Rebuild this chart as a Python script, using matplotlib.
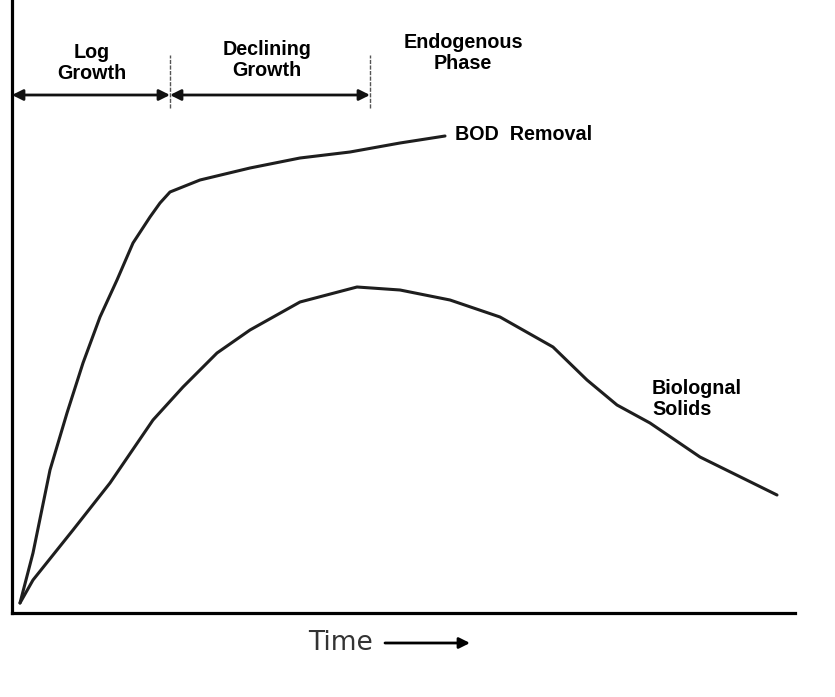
import matplotlib
matplotlib.use("Agg")
import matplotlib.pyplot as plt

# ---- data (arbitrary time / response units) ----
bod_t = [8, 21, 38, 55, 71, 88, 105, 121, 138, 148, 158, 173, 188, 238, 288, 338, 388, 433]
bod_y = [10, 60, 143, 200, 250, 296, 333, 370, 396, 410, 421, 427, 433, 445, 455, 461, 470, 477]

bio_t = [8, 21, 61, 98, 141, 171, 205, 238, 288, 345, 388, 438, 488, 541, 575, 605, 638, 688, 765]
bio_y = [10, 33, 83, 130, 193, 226, 260, 283, 311, 326, 323, 313, 296, 266, 233, 208, 190, 156, 118]

phase_bounds = [0, 158, 358]
phase_labels = ["Log\nGrowth", "Declining\nGrowth", "Endogenous\nPhase"]
phase_label_x = [80, 255, 451]
phase_label_y = [550, 553, 560]

curve_labels = ["BOD  Removal", "Biolognal\nSolids"]

W, H = 835, 697
fig = plt.figure(figsize=(W / 100, H / 100), dpi=100)
ax = fig.add_axes([12 / W, (H - 613) / H, (795 - 12) / W, 613 / H])
ax.set_xlim(0, 783)
ax.set_ylim(0, 613)
for s in ["top", "right"]:
    ax.spines[s].set_visible(False)
for s in ["left", "bottom"]:
    ax.spines[s].set_linewidth(2.3)
    ax.spines[s].set_color("black")
ax.set_xticks([])
ax.set_yticks([])

curve_color = "#1e1e1e"
ax.plot(bod_t, bod_y, color=curve_color, lw=2.2, solid_capstyle="round",
        solid_joinstyle="round")
ax.plot(bio_t, bio_y, color=curve_color, lw=2.2, solid_capstyle="round",
        solid_joinstyle="round")

font = "Liberation Sans"
fs = 14.2
ax.text(443, 478, curve_labels[0], fontsize=fs, fontweight="bold", family=font,
        ha="left", va="center")
ax.text(640, 214, curve_labels[1], fontsize=fs, fontweight="bold", family=font,
        ha="left", va="center", linespacing=1.15)

for x, y, lab in zip(phase_label_x, phase_label_y, phase_labels):
    ax.text(x, y, lab, fontsize=fs, fontweight="bold", family=font,
            ha="center", va="center", linespacing=1.15)

# phase boundary ticks
for xb in phase_bounds[1:]:
    ax.plot([xb, xb], [505, 558], color="#555555", lw=1.0, ls=(0, (3, 1)))

# double-headed arrows
arrow_y = 518
for a, b in zip(phase_bounds[:-1], phase_bounds[1:]):
    ax.annotate("", xy=(b, arrow_y), xytext=(a, arrow_y),
                arrowprops=dict(arrowstyle="<|-|>", color="#111111", lw=2.0,
                                mutation_scale=16, shrinkA=0, shrinkB=0))

# Time label with arrow
ax.text(328, -30, "Time", fontsize=19, color="#333333", family="DejaVu Sans",
        ha="center", va="center", clip_on=False)
ax.annotate("", xy=(458, -30), xytext=(373, -30), annotation_clip=False,
            arrowprops=dict(arrowstyle="-|>", color="black", lw=2.0,
                            mutation_scale=16, shrinkA=0, shrinkB=0))

fig.savefig("out.png", dpi=100, facecolor="white")
